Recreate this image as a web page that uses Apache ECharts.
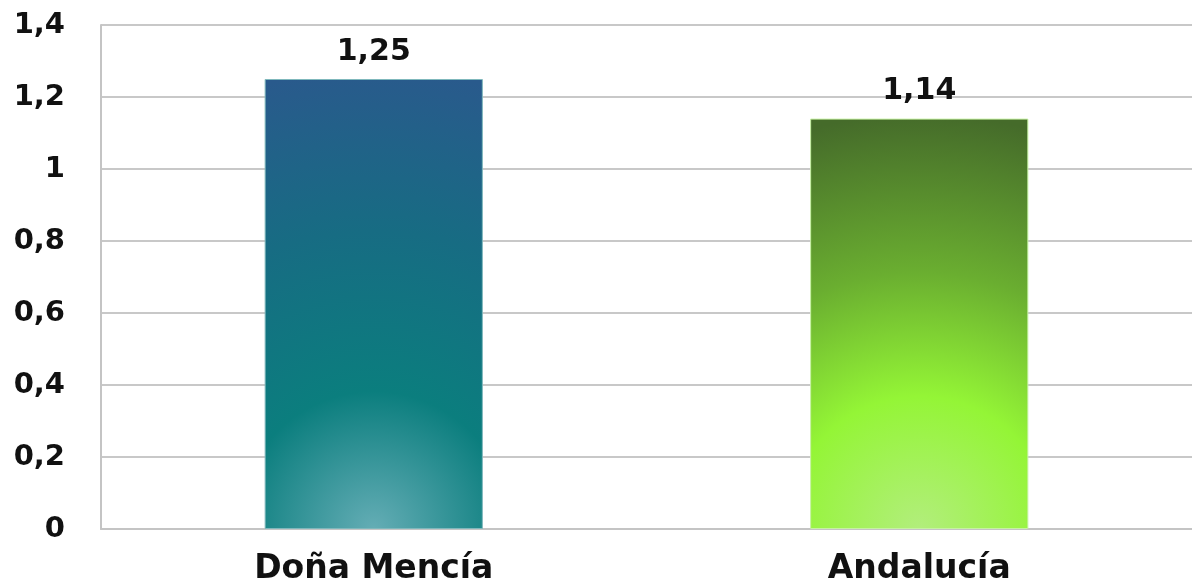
<!DOCTYPE html>
<html>
<head>
<meta charset="utf-8">
<script src="https://cdn.jsdelivr.net/npm/echarts@6/dist/echarts.min.js"></script>
<style>
  html, body { margin: 0; padding: 0; background: #ffffff; }
  #chart { width: 1192px; height: 586px; }
</style>
</head>
<body>
<div id="chart"></div>
<script>
// Chart data
const categories = ['Doña Mencía', 'Andalucía'];
const values = [1.25, 1.14];
const yTicks = [0, 0.2, 0.4, 0.6, 0.8, 1, 1.2, 1.4];

// Spanish decimal comma
const fmt = v => String(+v.toFixed(2)).replace('.', ',');

// Bar fills: light glow at the base fading up to a darker top
const fills = [
  {
    type: 'radial', x: 0.5, y: 1, r: 2.1,
    colorStops: [
      { offset: 0, color: '#64adb5' },
      { offset: 0.3, color: '#0b7e7e' },
      { offset: 0.65, color: '#176c83' },
      { offset: 1, color: '#295a8c' }
    ]
  },
  {
    type: 'radial', x: 0.5, y: 1, r: 1.9,
    colorStops: [
      { offset: 0, color: '#b2ee7c' },
      { offset: 0.32, color: '#94f536' },
      { offset: 0.62, color: '#6aae30' },
      { offset: 1, color: '#456b2a' }
    ]
  }
];
const borders = ['#7fb8bc', '#c6f2a2'];

const chart = echarts.init(document.getElementById('chart'), null, { renderer: 'canvas' });
chart.setOption({
  animation: false,
  backgroundColor: '#ffffff',
  grid: { left: 101, width: 1099, top: 25, bottom: 57, containLabel: false },
  xAxis: {
    type: 'category',
    data: categories,
    axisTick: { show: false },
    axisLine: { show: true, lineStyle: { color: '#c4c4c4', width: 2 } },
    axisLabel: {
      margin: 24,
      fontFamily: 'DejaVu Sans',
      fontWeight: 'bold',
      fontSize: 33,
      color: '#111111'
    }
  },
  yAxis: {
    type: 'value',
    min: yTicks[0],
    max: yTicks[yTicks.length - 1],
    interval: 0.2,
    axisLine: { show: true, lineStyle: { color: '#c4c4c4', width: 2 } },
    axisTick: { show: false },
    splitLine: { show: true, lineStyle: { color: '#c8c8c8', width: 2 } },
    axisLabel: {
      margin: 36,
      fontFamily: 'DejaVu Sans',
      fontWeight: 'bold',
      fontSize: 29,
      color: '#111111',
      formatter: v => fmt(v)
    }
  },
  series: [{
    type: 'bar',
    barWidth: '40%',
    data: values.map((v, i) => ({
      value: v,
      itemStyle: { color: fills[i], borderColor: borders[i], borderWidth: 1 }
    })),
    label: {
      show: true,
      position: 'top',
      distance: 12,
      fontFamily: 'DejaVu Sans',
      fontWeight: 'bold',
      fontSize: 30,
      color: '#111111',
      formatter: p => fmt(p.value)
    }
  }]
});
</script>
</body>
</html>
